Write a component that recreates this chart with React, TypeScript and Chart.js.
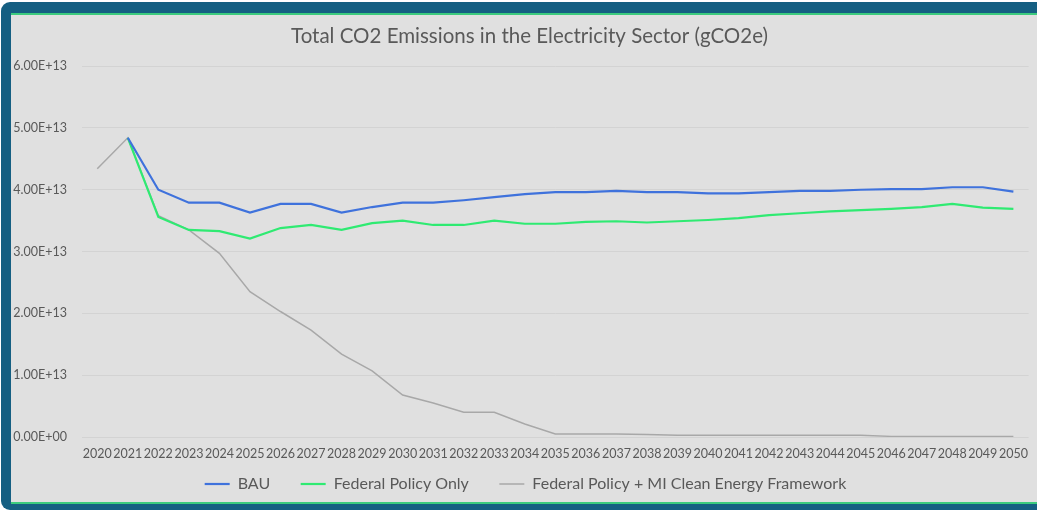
import React, { useEffect, useRef } from "react";
import { Chart, registerables } from "chart.js";

Chart.register(...registerables);

const years: string[] = [
  "2020", "2021", "2022", "2023", "2024", "2025", "2026", "2027", "2028", "2029",
  "2030", "2031", "2032", "2033", "2034", "2035", "2036", "2037", "2038", "2039",
  "2040", "2041", "2042", "2043", "2044", "2045", "2046", "2047", "2048", "2049", "2050",
];

// values in units of 1e13 gCO2e
const bau: (number | null)[] = [
  null, 4.84, 4.0, 3.79, 3.79, 3.63, 3.77, 3.77, 3.63, 3.72,
  3.79, 3.79, 3.83, 3.88, 3.93, 3.96, 3.96, 3.98, 3.96, 3.96,
  3.94, 3.94, 3.96, 3.98, 3.98, 4.0, 4.01, 4.01, 4.04, 4.04, 3.97,
];

const federalOnly: (number | null)[] = [
  null, 4.84, 3.56, 3.35, 3.33, 3.21, 3.38, 3.43, 3.35, 3.46,
  3.5, 3.43, 3.43, 3.5, 3.45, 3.45, 3.48, 3.49, 3.47, 3.49,
  3.51, 3.54, 3.59, 3.62, 3.65, 3.67, 3.69, 3.72, 3.77, 3.71, 3.69,
];

const federalPlusMI: (number | null)[] = [
  4.34, 4.84, 3.58, 3.35, 2.97, 2.35, 2.03, 1.73, 1.34, 1.07,
  0.68, 0.55, 0.4, 0.4, 0.21, 0.05, 0.05, 0.05, 0.04, 0.03,
  0.03, 0.03, 0.03, 0.03, 0.03, 0.03, 0.01, 0.01, 0.01, 0.01, 0.01,
];

const seriesNames: string[] = [
  "BAU",
  "Federal Policy Only",
  "Federal Policy + MI Clean Energy Framework",
];

const yTickValues: number[] = [0, 1e13, 2e13, 3e13, 4e13, 5e13, 6e13];

const UNIT = 1e13;

function sci(v: number): string {
  if (v === 0) return "0.00E+00";
  const exp = Math.floor(Math.log10(Math.abs(v)));
  const mant = v / Math.pow(10, exp);
  const sign = exp < 0 ? "-" : "+";
  const e = String(Math.abs(exp)).padStart(2, "0");
  return mant.toFixed(2) + "E" + sign + e;
}

const FONT = "Lato, 'Open Sans', sans-serif";
const TEXT = "#595959";

const shiftPlugin = {
  id: "shiftBlocks",
  afterLayout(c: any) {
    const tb = c.titleBlock;
    if (tb) {
      tb.left += 9;
      tb.right += 9;
    }
    const lg = c.legend;
    if (lg) {
      lg.left += 5;
      lg.right += 5;
    }
  },
};

export default function App() {
  const ref = useRef<HTMLCanvasElement | null>(null);

  useEffect(() => {
    if (!ref.current) return;
    const scale = (arr: (number | null)[]) => arr.map((v) => (v === null ? null : v * UNIT));
    const chart = new Chart(ref.current, {
      type: "line",
      data: {
        labels: years,
        datasets: [
          {
            label: seriesNames[0],
            data: scale(bau),
            borderColor: "#3f72dc",
            backgroundColor: "#3f72dc",
            borderWidth: 2.2,
            pointRadius: 0,
            tension: 0,
          },
          {
            label: seriesNames[1],
            data: scale(federalOnly),
            borderColor: "#2fea72",
            backgroundColor: "#2fea72",
            borderWidth: 2.2,
            pointRadius: 0,
            tension: 0,
          },
          {
            label: seriesNames[2],
            data: scale(federalPlusMI),
            borderColor: "#a8a8a8",
            backgroundColor: "#a8a8a8",
            borderWidth: 1.5,
            pointRadius: 0,
            tension: 0,
          },
        ],
      },
      plugins: [shiftPlugin],
      options: {
        animation: false,
        responsive: false,
        maintainAspectRatio: false,
        layout: { padding: { left: 0, right: 7, top: 0, bottom: 0 } },
        plugins: {
          title: {
            display: true,
            text: "Total CO2 Emissions in the Electricity Sector (gCO2e)",
            color: TEXT,
            font: { family: FONT, size: 20.5, weight: "normal" },
            padding: { top: 9.5, bottom: 17 },
          },
          legend: {
            position: "bottom",
            labels: {
              color: TEXT,
              font: { family: FONT, size: 16 },
              usePointStyle: true,
              pointStyle: "line",
              pointStyleWidth: 25,
              padding: 10,
              generateLabels: (c: any) => {
                const items = Chart.defaults.plugins.legend.labels.generateLabels(c);
                return items.map((it: any, i: number) => ({
                  ...it,
                  text: i < items.length - 1 ? it.text + "     " : it.text,
                }));
              },
            },
          },
          tooltip: { enabled: false },
        },
        scales: {
          x: {
            offset: true,
            grid: { display: false, drawTicks: false },
            border: { display: false },
            ticks: {
              color: TEXT,
              font: { family: FONT, size: 12.5 },
              padding: 9,
              maxRotation: 0,
              autoSkip: false,
            },
            afterFit: (s: any) => {
              s.height -= 4;
            },
          },
          y: {
            min: 0,
            max: 6e13,
            afterBuildTicks: (s: any) => {
              s.ticks = yTickValues.map((v) => ({ value: v }));
            },
            grid: { color: "#d3d3d3", lineWidth: 1, drawTicks: false },
            border: { display: false },
            ticks: {
              color: TEXT,
              font: { family: FONT, size: 12.5 },
              padding: 15,
              callback: (v: any) => sci(Number(v)),
            },
            afterFit: (s: any) => {
              s.width = 71;
            },
          },
        },
      },
    });
    return () => chart.destroy();
  }, []);

  return (
    <div
      style={{
        position: "fixed",
        left: 0,
        top: 0,
        width: 1037,
        height: 510,
        background: "#ffffff",
        overflow: "hidden",
      }}
    >
      <div
        style={{
          position: "absolute",
          left: 1,
          top: 2,
          width: 1060,
          height: 508,
          background: "#155f82",
          borderRadius: 9,
        }}
      />
      <div
        style={{
          position: "absolute",
          left: 11,
          top: 13,
          width: 1050,
          height: 487,
          background: "#e0e0e0",
          borderTop: "2px solid #3ccb7e",
          borderBottom: "2px solid #3ccb7e",
        }}
      />
      <canvas
        ref={ref}
        width={1026}
        height={487}
        style={{ position: "absolute", left: 11, top: 15, width: 1026, height: 487 }}
      />
    </div>
  );
}
